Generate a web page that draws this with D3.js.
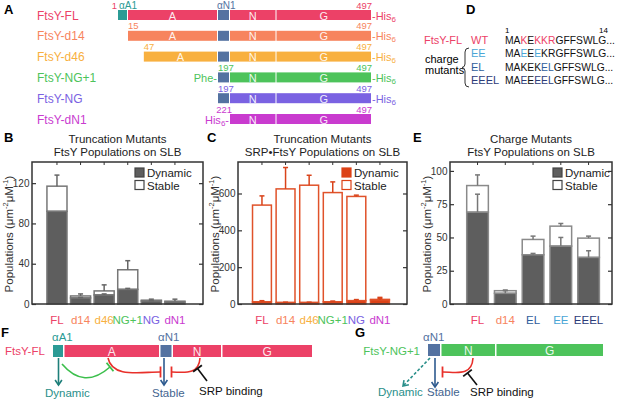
<!DOCTYPE html>
<html><head><meta charset="utf-8">
<script src="https://cdn.jsdelivr.net/npm/d3@7"></script>
<style>
body{margin:0;background:#fff}
svg{display:block;font-family:"Liberation Sans",Arial,sans-serif}
</style>
</head><body>
<svg id="fig" width="617" height="402"></svg>
<script>
// ---- panel A : constructs ----
const constructNames = ["FtsY-FL","FtsY-d14","FtsY-d46","FtsY-NG+1","FtsY-NG","FtsY-dN1"];
const constructStart = [1,15,47,197,197,221];
const constructEnd = [497,497,497,497,497,497];
const constructPrefix = ["","","","Phe-","","His"];
const constructColors = ["#ec4167","#f7845e","#f8b03f","#4dc35b","#7a62e2","#c93bcf"];
const domainNames = ["αA1","A","αN1","N","G"];
const domainFrom = [1,15,197,221,312];
const domainTo = [15,197,221,312,497];

// ---- panel D : sequences ----
const seqLabels = ["WT","EE","EL","EEEL"];
const seqColors = ["#ec4167","#4aa6d6","#2f5e9c","#2c3b78"];
const seqs = ["MAKEKKRGFFSWLG","MAEEEKRGFFSWLG","MAKEKELGFFSWLG","MAEEEELGFFSWLG"];
const seqMarked = [[2,4,5,6],[2,4],[5,6],[2,4,5,6]];

// ---- panel B : truncation mutants, FtsY ----
const truncCats = ["FL","d14","d46","NG+1","NG","dN1"];
const bDynamic = [92,6,9,14.5,3,2];
const bStable = [25,2,4,19.5,0.8,0.8];
const bStableErr = [11,2,6,9,1,2];
const bDynErr = [0,0.5,1,1,0.3,0];
const bTicks = [0,40,80,120];

// ---- panel C : truncation mutants, SRP-FtsY ----
const cDynamic = [12,8,8,12,18,22];
const cStable = [525,617,637,593,566,3];
const cStableErr = [50,116,54,58,7,11];
const cDynErr = [6,2,2,4,6,8];
const cTicks = [0,200,400,600];

// ---- panel E : charge mutants ----
const chargeCats = ["FL","d14","EL","EE","EEEL"];
const chargeColors = ["#ec4167","#f7845e","#2f5e9c","#4aa6d6","#2c3b78"];
const eDynamic = [69,8,37,43.5,35];
const eStable = [20,2,11.5,15,14.5];
const eStableErr = [8,0.5,2.5,2,1.5];
const eDynErr = [13.5,2,1,6.5,5];
const eTicks = [0,25,50,75,100];

const teal = "#2b9b95", slate = "#5472a1", red = "#e8302a";
const svg = d3.select("#fig");

function panelLetter(t, x, y) {
  svg.append("text").attr("x", x).attr("y", y).attr("font-size", 13)
    .attr("font-weight", "bold").text(t);
}

/* panel A */
panelLetter("A", 4, 14);
const resX = d3.scaleLinear().domain([1,15,197,221,312,497]).range([118,128,218,230,276.5,371]);
const rowY = d3.scaleLinear().domain([0,5]).range([15,119]);

constructNames.forEach((name, i) => {
  const cy = rowY(i), col = constructColors[i];
  svg.append("text").attr("x", 37).attr("y", cy + 4.5).attr("font-size", 12)
    .attr("fill", col).text(name);
  domainNames.forEach((dn, d) => {
    if (domainTo[d] <= constructStart[i]) return;
    const s = Math.max(constructStart[i], domainFrom[d]);
    const x0 = resX(s), x1 = resX(domainTo[d]) - (d < 4 ? 1 : 0);
    const fill = dn === "αA1" ? teal : dn === "αN1" ? slate : col;
    svg.append("rect").attr("x", x0).attr("y", cy - 5).attr("width", x1 - x0)
      .attr("height", 10).attr("fill", fill);
    if (dn === "A" || dn === "N" || dn === "G") {
      svg.append("text").attr("x", (x0 + x1) / 2).attr("y", cy + 4.5)
        .attr("text-anchor", "middle").attr("font-size", 11).attr("fill", "#fff")
        .attr("fill-opacity", 0.9).text(dn);
    }
  });
  // residue numbers
  const sx = resX(constructStart[i]);
  svg.append("text").attr("x", i === 0 ? sx - 1 : (i === 5 ? sx + 2 : sx))
    .attr("y", cy - 6.5).attr("font-size", 9.5)
    .attr("text-anchor", i === 0 || i === 5 ? "end" : "start")
    .attr("fill", col).text(constructStart[i]);
  svg.append("text").attr("x", resX(constructEnd[i]) + 1).attr("y", cy - 6.5)
    .attr("font-size", 9.5).attr("text-anchor", "end").attr("fill", col).text(constructEnd[i]);
  // his tag
  if (i !== 5) {
    const t = svg.append("text").attr("x", resX(constructEnd[i]) + 1).attr("y", cy + 4.5)
      .attr("font-size", 11).attr("fill", col);
    t.append("tspan").text("-His");
    t.append("tspan").attr("font-size", 8).attr("dy", 2).text("6");
  }
  if (constructPrefix[i] === "Phe-") {
    svg.append("text").attr("x", sx - 1).attr("y", cy + 4.5).attr("font-size", 11)
      .attr("text-anchor", "end").attr("fill", col).text("Phe-");
  }
  if (constructPrefix[i] === "His") {
    const t = svg.append("text").attr("x", sx - 1).attr("y", cy + 4.5).attr("font-size", 11)
      .attr("text-anchor", "end").attr("fill", col);
    t.append("tspan").text("His");
    t.append("tspan").attr("font-size", 8).attr("dy", 2).text("6");
    t.append("tspan").attr("dy", -2).text("-");
  }
});
svg.append("text").attr("x", 119).attr("y", 8.5).attr("font-size", 10).attr("fill", teal).text("αA1");
svg.append("text").attr("x", 217).attr("y", 8.5).attr("font-size", 10).attr("fill", slate).text("αN1");

/* panel D */
panelLetter("D", 466, 14);
svg.append("text").attr("x", 424).attr("y", 44).attr("font-size", 11)
  .attr("fill", constructColors[0]).text("FtsY-FL");
svg.append("text").attr("x", 425).attr("y", 63).attr("font-size", 11).text("charge");
svg.append("text").attr("x", 425).attr("y", 74).attr("font-size", 11).text("mutants");
svg.append("path").attr("d", "M469,48 Q465,48 465,52 L465,64 Q465,67 462,67.5 Q465,68 465,71 L465,83 Q465,87 469,87")
  .attr("fill", "none").attr("stroke", "#333").attr("stroke-width", 1);
const seqY = [44, 57, 70.5, 84];
seqLabels.forEach((lab, i) => {
  svg.append("text").attr("x", 471).attr("y", seqY[i]).attr("font-size", 11)
    .attr("fill", seqColors[i]).text(lab);
  const t = svg.append("text").attr("x", 505).attr("y", seqY[i]).attr("font-size", 10.3);
  seqs[i].split("").forEach((ch, k) => {
    t.append("tspan").attr("fill", seqMarked[i].includes(k) ? seqColors[i] : "#111").text(ch);
  });
  t.append("tspan").attr("fill", "#111").text("...");
});
svg.append("text").attr("x", 505).attr("y", 33).attr("font-size", 8).text("1");
svg.append("text").attr("x", 599).attr("y", 33).attr("font-size", 8).text("14");

/* bar chart panels */
function barPanel(o) {
  const x = d3.scaleBand().domain(o.cats).range(o.xr).padding(o.pad);
  const y = d3.scaleLinear().domain([0, o.ymax]).range([304, 162]);
  const g = svg.append("g");
  const cx = (o.frame[0] + o.frame[1]) / 2;
  g.append("text").attr("x", cx).attr("y", 143).attr("text-anchor", "middle")
    .attr("font-size", 11.5).attr("fill", "#222").text(o.title1);
  g.append("text").attr("x", cx).attr("y", 156).attr("text-anchor", "middle")
    .attr("font-size", 11.5).attr("fill", "#222").text(o.title2);
  o.cats.forEach((c, i) => {
    const x0 = x(c), bw = x.bandwidth(), dyn = o.dyn[i], tot = o.dyn[i] + o.stable[i];
    const xm = x0 + bw / 2;
    g.append("rect").attr("x", x0).attr("y", y(tot)).attr("width", bw)
      .attr("height", y(dyn) - y(tot)).attr("fill", "#fff")
      .attr("stroke", o.stroke).attr("stroke-width", 1.5);
    g.append("rect").attr("x", x0).attr("y", y(dyn)).attr("width", bw)
      .attr("height", y(0) - y(dyn)).attr("fill", o.dynFill)
      .attr("stroke", o.stroke).attr("stroke-width", 1.5);
    [[tot, o.stableErr[i]], [dyn, o.dynErr[i]]].forEach(([v, e]) => {
      if (!e) return;
      g.append("line").attr("x1", xm).attr("x2", xm).attr("y1", y(v)).attr("y2", y(v + e))
        .attr("stroke", o.err).attr("stroke-width", 1.5);
      g.append("line").attr("x1", xm - 2.5).attr("x2", xm + 2.5).attr("y1", y(v + e)).attr("y2", y(v + e))
        .attr("stroke", o.err).attr("stroke-width", 1.5);
    });
    g.append("text").attr("x", xm).attr("y", 324).attr("text-anchor", "middle")
      .attr("font-size", 11.5).attr("fill", o.catColors[i]).text(c);
  });
  // frame and axes
  g.append("rect").attr("x", o.frame[0]).attr("y", 162).attr("width", o.frame[1] - o.frame[0])
    .attr("height", 142).attr("fill", "none").attr("stroke", "#333").attr("stroke-width", 1.5);
  g.append("g").attr("transform", `translate(${o.frame[0]},0)`)
    .call(d3.axisLeft(y).tickValues(o.ticks).tickSize(-4).tickPadding(2.5))
    .call(a => a.select(".domain").remove())
    .call(a => a.selectAll("text").attr("font-size", 10).attr("fill", "#333")
      .attr("font-family", "Liberation Sans, Arial, sans-serif"))
    .call(a => a.selectAll("line").attr("stroke", "#333").attr("stroke-width", 1.2));
  g.append("g").attr("transform", `translate(${o.frame[1]},0)`)
    .call(d3.axisRight(y).tickValues(o.ticks).tickSize(-4).tickFormat(""))
    .call(a => a.select(".domain").remove())
    .call(a => a.selectAll("line").attr("stroke", "#333").attr("stroke-width", 1.2));
  g.append("g").attr("transform", "translate(0,162)")
    .call(d3.axisTop(x).tickSize(-3).tickFormat(""))
    .call(a => a.select(".domain").remove())
    .call(a => a.selectAll("line").attr("stroke", "#333").attr("stroke-width", 1));
  // y label
  const yl = g.append("text").attr("transform", `translate(${o.frame[0] - 19},234) rotate(-90)`)
    .attr("text-anchor", "middle").attr("font-size", 11.5).attr("fill", "#333");
  yl.append("tspan").text("Populations (μm");
  yl.append("tspan").attr("font-size", 7.5).attr("dy", -5).text("-2");
  yl.append("tspan").attr("dy", 5).text("μM");
  yl.append("tspan").attr("font-size", 7.5).attr("dy", -5).text("-1");
  yl.append("tspan").attr("dy", 5).text(")");
  // legend
  [["Dynamic", o.dynFill], ["Stable", "#fff"]].forEach(([lab, f], k) => {
    g.append("rect").attr("x", o.legX).attr("y", 168 + k * 12.5).attr("width", 9).attr("height", 9)
      .attr("fill", f).attr("stroke", o.legStroke).attr("stroke-width", 1.2);
    g.append("text").attr("x", o.legX + 12).attr("y", 177 + k * 12.5).attr("font-size", 11.5)
      .attr("fill", "#222").text(lab);
  });
}

panelLetter("B", 4, 142);
barPanel({cats: truncCats, catColors: constructColors, dyn: bDynamic, stable: bStable,
  stableErr: bStableErr, dynErr: bDynErr, ticks: bTicks, ymax: 141,
  xr: [43.4, 188.5], pad: 0.15, frame: [32, 203], title1: "Truncation Mutants",
  title2: "FtsY Populations on SLB", dynFill: "#5e5e5e", stroke: "#777", err: "#666",
  legX: 135, legStroke: "#444"});

panelLetter("C", 207, 142);
barPanel({cats: truncCats, catColors: constructColors, dyn: cDynamic, stable: cStable,
  stableErr: cStableErr, dynErr: cDynErr, ticks: cTicks, ymax: 771,
  xr: [247.8, 394.1], pad: 0.2, frame: [238, 407], title1: "Truncation Mutants",
  title2: "SRP•FtsY Populations on SLB", dynFill: "#dc4116", stroke: "#e0522a", err: "#d9431a",
  legX: 342, legStroke: "#dc4116"});

panelLetter("E", 413, 142);
barPanel({cats: chargeCats, catColors: chargeColors, dyn: eDynamic, stable: eStable,
  stableErr: eStableErr, dynErr: eDynErr, ticks: eTicks, ymax: 106.7,
  xr: [460.6, 605.5], pad: 0.22, frame: [450, 612], title1: "Charge Mutants",
  title2: "FtsY Populations on SLB", dynFill: "#5e5e5e", stroke: "#8a8a8a", err: "#777",
  legX: 553, legStroke: "#444"});

/* panels F and G : schematics */
function domainBar(scale, from, to, names, col, cy) {
  names.forEach((dn, d) => {
    const x0 = scale(from[d]), x1 = scale(to[d]) - (d < names.length - 1 ? 1.5 : 0);
    const fill = dn === "αA1" ? teal : dn === "αN1" ? slate : col;
    svg.append("rect").attr("x", x0).attr("y", cy - 6).attr("width", x1 - x0)
      .attr("height", 12).attr("fill", fill);
    if (!dn.startsWith("α")) {
      svg.append("text").attr("x", (x0 + x1) / 2).attr("y", cy + 4.5).attr("text-anchor", "middle")
        .attr("font-size", 12).attr("fill", "#fff").attr("fill-opacity", 0.9).text(dn);
    }
  });
}
function arrow(x1, y1, x2, y2, col, dashed) {
  svg.append("line").attr("x1", x1).attr("y1", y1).attr("x2", x2).attr("y2", y2)
    .attr("stroke", col).attr("stroke-width", 1.6).attr("stroke-dasharray", dashed ? "3,2" : null);
  const a = Math.atan2(y2 - y1, x2 - x1), L = 6;
  const p1 = [x2 - L * Math.cos(a - 0.6), y2 - L * Math.sin(a - 0.6)];
  const p2 = [x2 - L * Math.cos(a + 0.6), y2 - L * Math.sin(a + 0.6)];
  svg.append("path").attr("d", `M${p1}L${x2},${y2}L${p2}`).attr("fill", "none")
    .attr("stroke", col).attr("stroke-width", 1.6);
}
function inhib(d, ex, ey, ang, col) {
  svg.append("path").attr("d", d).attr("fill", "none").attr("stroke", col).attr("stroke-width", 1.6);
  const h = 5.5, px = Math.cos(ang + Math.PI / 2) * h, py = Math.sin(ang + Math.PI / 2) * h;
  svg.append("line").attr("x1", ex - px).attr("y1", ey - py).attr("x2", ex + px).attr("y2", ey + py)
    .attr("stroke", col).attr("stroke-width", 1.8);
}
function label(t, x, y, col) {
  svg.append("text").attr("x", x).attr("y", y).attr("font-size", 11.5).attr("fill", col).text(t);
}

panelLetter("F", 1, 337);
const fX = d3.scaleLinear().domain([1,15,197,221,312,497]).range([53,64.5,160.5,173,222.5,312]);
label("FtsY-FL", 5, 355, constructColors[0]);
domainBar(fX, domainFrom, domainTo, domainNames, constructColors[0], 351);
label("αA1", 52, 341, teal);
label("αN1", 158, 341, slate);
arrow(58.5, 358, 58.5, 385, "#1e7f7a");
arrow(164, 358, 164, 385, "#2d5a8f");
inhib("M62,364 Q84,390 110,367", 110, 367, Math.atan2(-21, 26), "#3cbf4c");
inhib("M108,358 C112,378 140,372 160,372", 160.5, 372, 0, red);
inhib("M200,358 C199,376 182,372 172,372", 171.5, 372, Math.PI, red);
inhib("M207,381 L197.5,368.5", 197.5, 368.5, Math.atan2(-12.5, -9.5), "#111");
label("Dynamic", 45, 397, "#2a8f8a");
label("Stable", 152, 397, "#44648f");
label("SRP binding", 199, 395, "#111");

panelLetter("G", 355, 337);
const gX = d3.scaleLinear().domain([197,221,312,497]).range([428,441.5,496.5,603]);
svg.append("text").attr("x", 420).attr("y", 355).attr("text-anchor", "end").attr("font-size", 11.5)
  .attr("fill", constructColors[3]).text("FtsY-NG+1");
domainBar(gX, domainFrom.slice(2), domainTo.slice(2), domainNames.slice(2), constructColors[3], 350);
label("αN1", 423, 341, slate);
arrow(430, 358, 403, 386, "#2a8f8a", true);
arrow(435, 358, 435, 387, "#2d5a8f");
inhib("M473,358 C472,377 455,372 443,372", 442.5, 372, Math.PI, red);
inhib("M477,385 L467.5,373", 467.5, 373, Math.atan2(-12, -9.5), "#111");
label("Dynamic", 378, 396, "#2a8f8a");
label("Stable", 427, 396, "#44648f");
label("SRP binding", 470, 396, "#111");
</script>
</body></html>
